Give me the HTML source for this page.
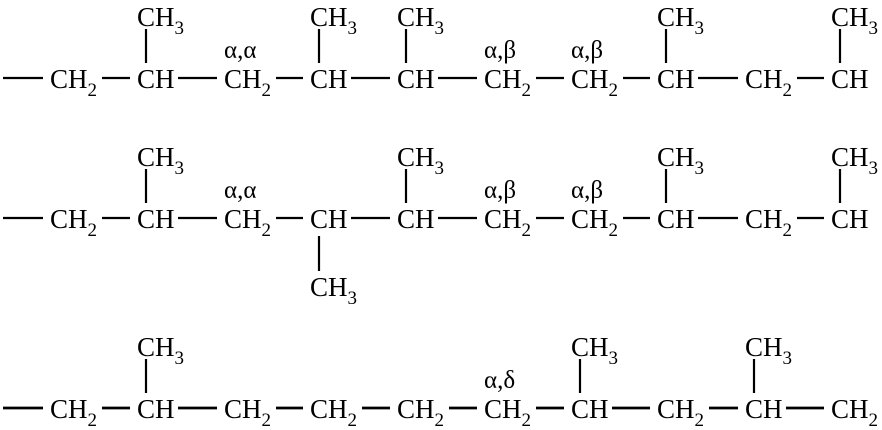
<!DOCTYPE html>
<html><head><meta charset="utf-8"><style>
html,body{margin:0;padding:0;background:#fff;}
svg{display:block}
text{font-family:"Liberation Serif",serif;fill:#000}
</style></head><body>
<svg id="s" width="882" height="430" viewBox="0 0 882 430" xmlns="http://www.w3.org/2000/svg"></svg>
<script>
var s=document.getElementById('s'),h='';
var X=[50,137,224,310,397,484,571,657,745,831];
function grp(x,y,t){
  if(t=='CH2'){h+='<text x="'+x+'" y="'+y+'" font-size="27">CH<tspan font-size="19" dy="8">2</tspan></text>';return x+50;}
  if(t=='CH3'){h+='<text x="'+x+'" y="'+y+'" font-size="27">CH<tspan font-size="19" dy="8">3</tspan></text>';return x+50;}
  h+='<text x="'+x+'" y="'+y+'" font-size="27">CH</text>';return x+39;
}
function line(x1,y1,x2,y2,w){h+='<line x1="'+x1+'" y1="'+y1+'" x2="'+x2+'" y2="'+y2+'" stroke="#000" stroke-width="'+(w||2.2)+'"/>';}
function row(b,seq,up,down,labels,w){
  var y=b-10;line(3,y,43,y,w);
  for(var i=0;i<seq.length;i++){
    var e=grp(X[i],b,seq[i]);
    if(i<seq.length-1)line(e+2,y,X[i+1]-7,y,w);
  }
  up.forEach(function(i){grp(X[i],b-62,'CH3');line(X[i]+9,b-59,X[i]+9,b-25,2.2);});
  down.forEach(function(i){line(X[i]+9,b+8,X[i]+9,b+43,2.2);grp(X[i],b+68,'CH3');});
  for(var k in labels){h+='<text x="'+X[k]+'" y="'+(b-30)+'" font-size="25">'+labels[k]+'</text>';}
}
row(88,['CH2','CH','CH2','CH','CH','CH2','CH2','CH','CH2','CH'],[1,3,4,7,9],[],{2:'α,α',5:'α,β',6:'α,β'});
row(228,['CH2','CH','CH2','CH','CH','CH2','CH2','CH','CH2','CH'],[1,4,7,9],[3],{2:'α,α',5:'α,β',6:'α,β'});
row(418,['CH2','CH','CH2','CH2','CH2','CH2','CH','CH2','CH','CH2'],[1,6,8],[],{5:'α,δ'},2.8);
s.innerHTML=h;
</script>
</body></html>
